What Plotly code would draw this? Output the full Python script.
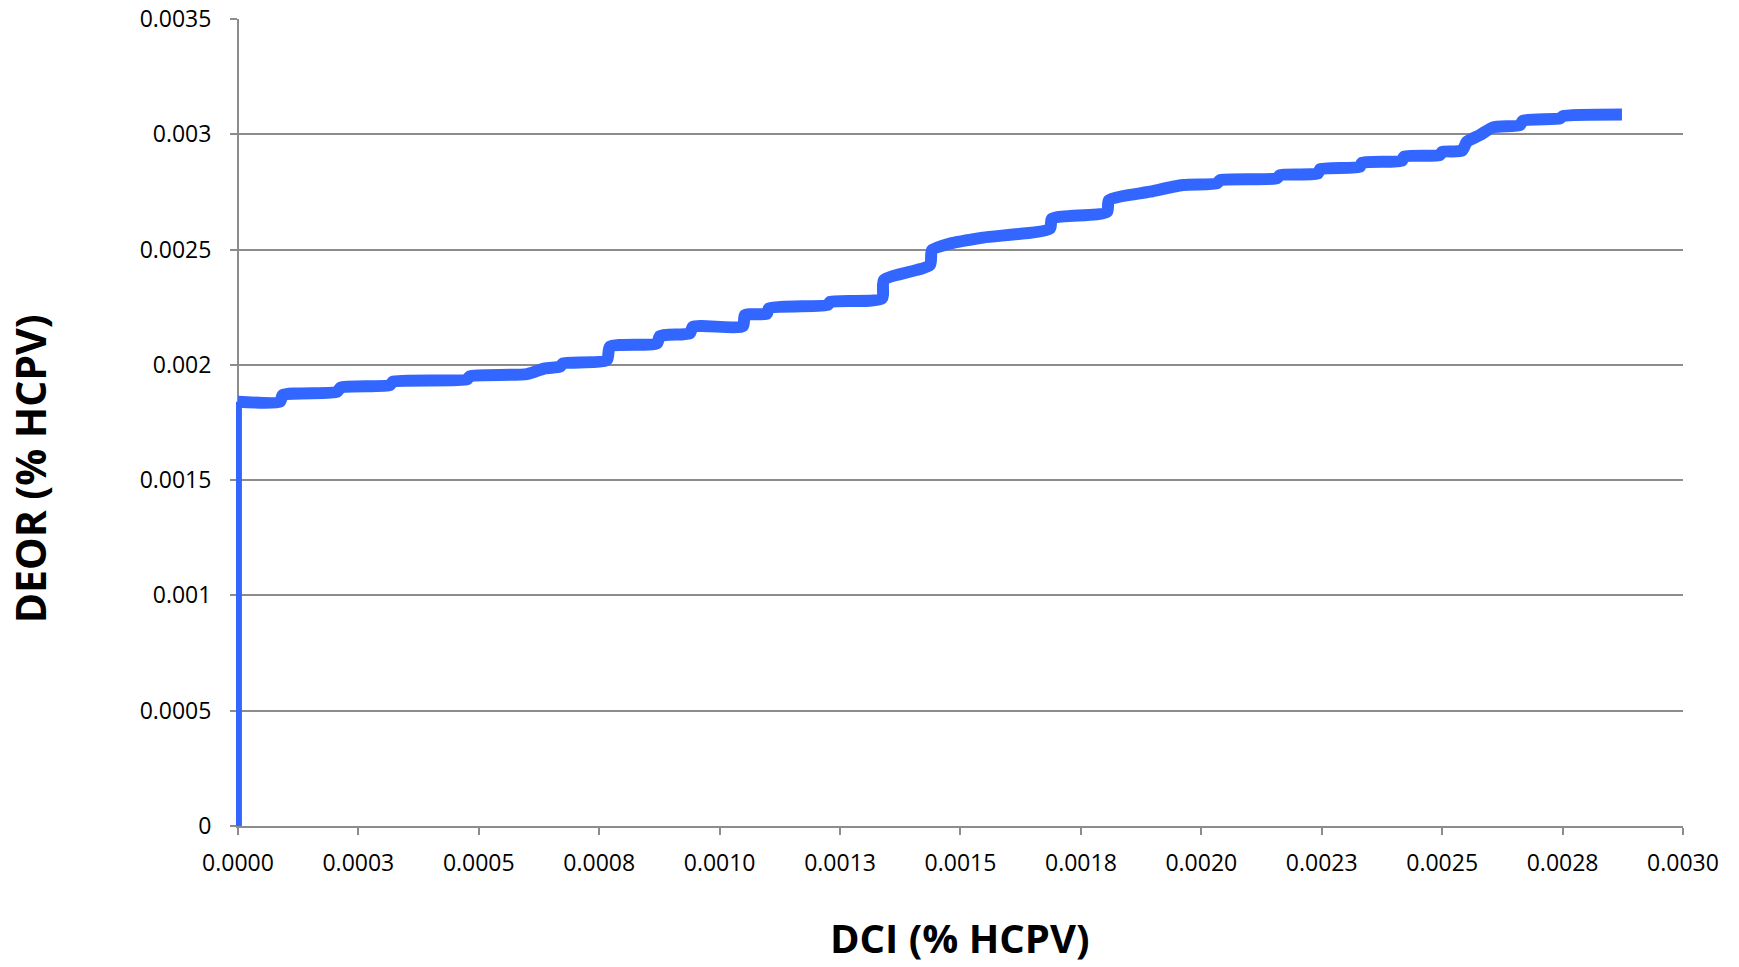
import plotly.graph_objects as go

# Data
dci = [0.0, 0.0, 0.0000872, 0.0000934, 0.0002055, 0.0002138, 0.0003156, 0.0003218,
       0.0004754, 0.0004817, 0.0006000, 0.0006374, 0.0006685, 0.0006747, 0.0007660,
       0.0007723, 0.0008699, 0.0008761, 0.0009384, 0.0009446, 0.0010484, 0.0010526,
       0.0010983, 0.0011024, 0.0012249, 0.0012290, 0.0013370, 0.0013412, 0.0014367,
       0.0014408, 0.0014782, 0.0015467, 0.0016858, 0.0016899, 0.0018041, 0.0018083,
       0.0018934, 0.0019619, 0.0020325, 0.0020387, 0.0021571, 0.0021633, 0.0022422,
       0.0022463, 0.0023294, 0.0023335, 0.0024165, 0.0024207, 0.0024954, 0.0024996,
       0.0025411, 0.0025515, 0.0025785, 0.0026055, 0.0026615, 0.0026677, 0.0027446,
       0.0027508, 0.0028733]
deor = [0.0, 0.001840, 0.001840, 0.001869, 0.001883, 0.001902, 0.001912, 0.001927,
        0.001937, 0.001951, 0.001960, 0.001985, 0.001992, 0.002006, 0.002021,
        0.002079, 0.002093, 0.002125, 0.002137, 0.002165, 0.002168, 0.002216,
        0.002222, 0.002245, 0.002260, 0.002273, 0.002288, 0.002368, 0.002433,
        0.002497, 0.002526, 0.002552, 0.002591, 0.002634, 0.002663, 0.002714,
        0.002751, 0.002780, 0.002787, 0.002801, 0.002809, 0.002823, 0.002830,
        0.002849, 0.002859, 0.002876, 0.002885, 0.002903, 0.002910, 0.002924,
        0.002929, 0.002968, 0.002997, 0.003030, 0.003040, 0.003059, 0.003069,
        0.003079, 0.003086]

x_tickvals = [0, 0.00025, 0.0005, 0.00075, 0.001, 0.00125, 0.0015, 0.00175,
              0.002, 0.00225, 0.0025, 0.00275, 0.003]
x_ticktext = ["0.0000", "0.0003", "0.0005", "0.0008", "0.0010", "0.0013", "0.0015",
              "0.0018", "0.0020", "0.0023", "0.0025", "0.0028", "0.0030"]
y_tickvals = [0, 0.0005, 0.001, 0.0015, 0.002, 0.0025, 0.003, 0.0035]
y_ticktext = ["0", "0.0005", "0.001", "0.0015", "0.002", "0.0025", "0.003", "0.0035"]

x_title = "DCI (% HCPV)"
y_title = "DEOR (% HCPV)"

LINE = "#3366FF"
GRID = "#8C8C8C"
FONT = "Open Sans"

fig = go.Figure()
fig.add_trace(go.Scatter(x=dci[:2], y=deor[:2], mode="lines",
                         line=dict(color=LINE, width=8),
                         showlegend=False, hoverinfo="skip"))
fig.add_trace(go.Scatter(x=dci[1:], y=deor[1:], mode="lines",
                         line=dict(color=LINE, width=12, shape="spline", smoothing=0.6),
                         showlegend=False))

fig.update_layout(
    width=1739, height=967,
    margin=dict(l=236, r=56, t=19, b=141, autoexpand=False),
    paper_bgcolor="white", plot_bgcolor="white",
    font=dict(family=FONT, color="black", size=23),
    xaxis=dict(range=[-0.000004, 0.003], tickmode="array", tickvals=x_tickvals,
               ticktext=x_ticktext, showgrid=False, zeroline=False,
               showline=True, linecolor=GRID, linewidth=2, automargin=False,
               layer="below traces",
               ticks="outside", ticklen=7, tickcolor=GRID, tickwidth=2,
               ticklabelstandoff=8,
               tickfont=dict(family=FONT, size=23, color="black")),
    yaxis=dict(range=[0, 0.0035], tickmode="array", tickvals=y_tickvals,
               ticktext=y_ticktext, showgrid=True, gridcolor=GRID, gridwidth=2,
               zeroline=False, showline=True, linecolor=GRID, linewidth=2,
               automargin=False, anchor="free", position=0.0014,
               layer="below traces",
               ticks="outside", ticklen=7, tickcolor=GRID, tickwidth=2,
               ticklabelstandoff=14,
               tickfont=dict(family=FONT, size=23, color="black")),
    annotations=[
        dict(text=x_title, xref="paper", yref="paper", x=0.5, y=0, yshift=-111,
             xanchor="center", yanchor="middle", showarrow=False,
             font=dict(family=FONT, size=40, color="black", weight="bold")),
        dict(text=y_title, xref="paper", yref="paper", x=0, xshift=-206, y=0.442,
             xanchor="center", yanchor="middle", textangle=-90, showarrow=False,
             font=dict(family=FONT, size=41, color="black", weight="bold")),
    ],
)

fig.write_html("out.html")
